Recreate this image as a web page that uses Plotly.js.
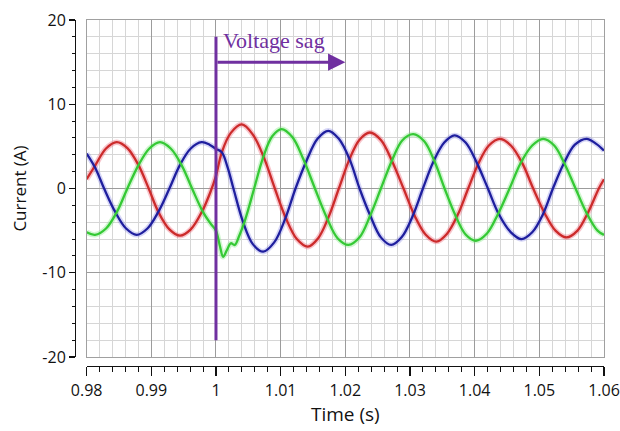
<!DOCTYPE html>
<html>
<head>
<meta charset="utf-8">
<script src="https://cdn.plot.ly/plotly-3.0.1.min.js"></script>
<style>
  html, body { margin: 0; padding: 0; background: #fff; }
  #chart { width: 620px; height: 431px; }
</style>
</head>
<body>
<div id="chart"></div>
<script>
// Three-phase load currents around a voltage sag at t = 1 s

const phaseATime = [0.9800, 0.9813, 0.9830, 0.98465, 0.9863, 0.9880, 0.9896, 0.9911, 0.9928, 0.99444,
  0.9961, 0.9978, 0.9991, 1.0000, 1.0009, 1.0023, 1.0040, 1.0057, 1.0074, 1.0091, 1.0108, 1.0125,
  1.0142, 1.0158, 1.0174, 1.0190, 1.0206, 1.0222, 1.0238, 1.0255, 1.0272, 1.0290, 1.0307, 1.0324,
  1.0341, 1.0357, 1.0374, 1.0390, 1.0406, 1.0422, 1.0439, 1.0456, 1.0474, 1.04905, 1.0508, 1.0525,
  1.0542, 1.0559, 1.0575, 1.0592, 1.0600];
const phaseACurrent = [1.1, 2.7, 4.75, 5.5, 4.8, 2.8, 0.0, -2.8, -4.85, -5.6,
  -4.85, -2.8, -0.5, 1.5, 4.3, 6.6, 7.6, 6.4, 3.7, 0.0, -3.5, -6.0,
  -6.9, -5.9, -3.4, 0.0, 3.4, 5.8, 6.65, 5.75, 3.3, 0.0, -3.2, -5.45,
  -6.3, -5.4, -3.1, 0.0, 3.0, 5.1, 5.9, 5.1, 2.95, 0.0, -2.9, -5.0,
  -5.8, -5.0, -2.9, 0.0, 1.1];

const phaseBTime = [0.9800, 0.9813, 0.9827, 0.9844, 0.9861, 0.98774, 0.9894, 0.9911, 0.9928, 0.9944,
  0.9961, 0.99778, 0.9990, 1.0000, 1.0009, 1.0018, 1.0027, 1.0042, 1.0057, 1.0073, 1.0090, 1.0107,
  1.0123, 1.0140, 1.0157, 1.01736, 1.0190, 1.0207, 1.0222, 1.0239, 1.0255, 1.0271, 1.0287, 1.0304,
  1.0320, 1.0336, 1.0353, 1.0369, 1.0386, 1.0403, 1.04205, 1.0437, 1.0456, 1.04725, 1.0489, 1.0506,
  1.0521, 1.0538, 1.0555, 1.0573, 1.0588, 1.0600];
const phaseBCurrent = [4.15, 2.5, 0.0, -2.75, -4.75, -5.5, -4.75, -2.75, 0.0, 2.75,
  4.75, 5.5, 5.2, 4.7, 4.3, 2.5, 0.0, -4.0, -6.6, -7.5, -6.4, -3.6,
  0.0, 3.3, 5.9, 6.85, 5.9, 3.4, 0.0, -3.3, -5.8, -6.7, -5.8, -3.3,
  0.0, 3.15, 5.45, 6.3, 5.45, 3.1, 0.0, -3.0, -5.2, -6.0, -5.2, -3.0,
  0.0, 3.0, 5.2, 5.9, 5.3, 4.5];

const phaseCTime = [0.9800, 0.9813, 0.9830, 0.9847, 0.9863, 0.9880, 0.9897, 0.99134, 0.9930, 0.9947,
  0.9963, 0.9980, 0.9992, 1.0000, 1.0006, 1.0011, 1.0017, 1.0023, 1.0029, 1.0036, 1.0043, 1.0051,
  1.0059, 1.0073, 1.0087, 1.01015, 1.0118, 1.0135, 1.0153, 1.0171, 1.0188, 1.0205, 1.0222, 1.0238,
  1.0255, 1.0272, 1.0288, 1.0305, 1.0322, 1.0338, 1.03535, 1.0370, 1.0386, 1.0402, 1.0419, 1.0436,
  1.0454, 1.0471, 1.0489, 1.0506, 1.0523, 1.0539, 1.0556, 1.0573, 1.0590, 1.0600];
const phaseCCurrent = [-5.2, -5.5, -4.75, -2.75, 0.0, 2.75, 4.75, 5.5, 4.75, 2.75,
  0.0, -2.8, -4.2, -5.0, -6.8, -8.1, -7.3, -6.5, -6.7, -5.6, -4.2, -2.2,
  0.0, 3.7, 6.2, 7.05, 6.1, 3.5, 0.0, -3.4, -5.9, -6.7, -5.8, -3.3,
  0.0, 3.3, 5.7, 6.45, 5.6, 3.2, 0.0, -3.15, -5.45, -6.2, -5.35, -3.05,
  0.0, 3.0, 5.1, 5.9, 5.1, 2.95, 0.0, -2.9, -5.0, -5.5];

// Axis ticks
const timeTicks = [0.98, 0.99, 1.00, 1.01, 1.02, 1.03, 1.04, 1.05, 1.06];
const timeTickText = ['0.98', '0.99', '1', '1.01', '1.02', '1.03', '1.04', '1.05', '1.06'];
const currentTicks = [-20, -10, 0, 10, 20];
const currentTickText = ['-20', '-10', '0', '10', '20'];

// Sag event marker
const sagTime = 1.0;
const sagMarkerSpan = [-18, 18];
const sagArrowEnd = 1.02;
const sagArrowLevel = 15;
const sagLabel = 'Voltage sag';

const phases = [
  { t: phaseATime, i: phaseACurrent, color: '#cc2b2b', glow: 'rgba(235,90,110,0.35)' },
  { t: phaseBTime, i: phaseBCurrent, color: '#1f1f9e', glow: 'rgba(90,90,220,0.25)' },
  { t: phaseCTime, i: phaseCCurrent, color: '#35c935', glow: 'rgba(120,230,120,0.35)' }
];

const traces = [];
phases.forEach(p => {
  traces.push({ x: p.t, y: p.i, type: 'scatter', mode: 'lines',
    line: { color: p.glow, width: 5.5, shape: 'spline', smoothing: 1 }, hoverinfo: 'skip' });
});
phases.forEach(p => {
  traces.push({ x: p.t, y: p.i, type: 'scatter', mode: 'lines',
    line: { color: p.color, width: 2.3, shape: 'spline', smoothing: 1 }, hoverinfo: 'skip' });
});
// carries the offset tick axes
traces.push({ x: [], y: [], xaxis: 'x2', yaxis: 'y2', type: 'scatter', mode: 'lines', hoverinfo: 'skip' });

const tickFont = { family: 'Open Sans, Lato, sans-serif', size: 16, color: '#111' };
const xTitleFont = { family: 'Open Sans, Lato, sans-serif', size: 19, color: '#111' };
const yTitleFont = { family: 'Open Sans, Lato, sans-serif', size: 17, color: '#111' };
const xRange = [0.98, 1.06];
const yRange = [-20, 20];

const layout = {
  width: 620, height: 431,
  margin: { l: 75, r: 16, t: 20, b: 65 },
  paper_bgcolor: '#fff', plot_bgcolor: '#fff',
  showlegend: false, hovermode: false,
  xaxis: {
    domain: [0.022, 1], range: xRange, anchor: 'y',
    tickmode: 'linear', tick0: 0.98, dtick: 0.01,
    showticklabels: false, ticks: '',
    showgrid: true, gridcolor: '#9c9c9c', gridwidth: 1,
    minor: { tickmode: 'linear', tick0: 0.98, dtick: 0.002, showgrid: true, gridcolor: '#d6d6d6', gridwidth: 1 },
    showline: true, mirror: true, linecolor: '#a0a0a0', linewidth: 1,
    zeroline: false
  },
  yaxis: {
    domain: [0.026, 1], range: yRange, anchor: 'x',
    tickmode: 'linear', tick0: -20, dtick: 10,
    showticklabels: false, ticks: '',
    showgrid: true, gridcolor: '#9c9c9c', gridwidth: 1,
    minor: { tickmode: 'linear', tick0: -20, dtick: 2, showgrid: true, gridcolor: '#d6d6d6', gridwidth: 1 },
    showline: true, mirror: true, linecolor: '#a0a0a0', linewidth: 1,
    zeroline: false
  },
  xaxis2: {
    overlaying: 'x', anchor: 'free', position: 0, range: xRange,
    tickmode: 'array', tickvals: timeTicks, ticktext: timeTickText,
    ticks: 'outside', ticklen: 9, tickwidth: 1.2, tickcolor: '#111',
    minor: { tickmode: 'linear', tick0: 0.98, dtick: 0.002, ticks: 'outside', ticklen: 5, tickwidth: 1, tickcolor: '#111', showgrid: false },
    showline: true, linecolor: '#111', linewidth: 1.3,
    showgrid: false, zeroline: false,
    tickfont: tickFont,
    title: { text: 'Time (s)', font: xTitleFont, standoff: 8 }
  },
  yaxis2: {
    overlaying: 'y', anchor: 'free', position: 0, range: yRange,
    tickmode: 'array', tickvals: currentTicks, ticktext: currentTickText,
    ticks: 'outside', ticklen: 6, tickwidth: 1.2, tickcolor: '#111',
    minor: { tickmode: 'linear', tick0: -20, dtick: 2, ticks: 'outside', ticklen: 3, tickwidth: 1, tickcolor: '#111', showgrid: false },
    showline: true, linecolor: '#111', linewidth: 1.3,
    showgrid: false, zeroline: false,
    tickfont: tickFont,
    title: { text: 'Current (A)', font: yTitleFont, standoff: 10 }
  },
  shapes: [{
    type: 'line', xref: 'x', yref: 'y',
    x0: sagTime, x1: sagTime, y0: sagMarkerSpan[0], y1: sagMarkerSpan[1],
    line: { color: '#7030a0', width: 3 }
  }],
  annotations: [
    {
      xref: 'x', yref: 'y', axref: 'x', ayref: 'y',
      x: sagArrowEnd, y: sagArrowLevel, ax: sagTime, ay: sagArrowLevel,
      text: '', showarrow: true, arrowhead: 2, arrowsize: 1.15, arrowwidth: 3, arrowcolor: '#7030a0', standoff: 0
    },
    {
      xref: 'x', yref: 'y', x: sagTime + 0.0008, y: sagMarkerSpan[1] - 0.4,
      xanchor: 'left', yanchor: 'middle', showarrow: false,
      text: sagLabel,
      font: { family: 'Liberation Serif, Times New Roman, serif', size: 22, color: '#7030a0' }
    }
  ]
};

Plotly.newPlot('chart', traces, layout, { staticPlot: true, displayModeBar: false });
</script>
</body>
</html>
